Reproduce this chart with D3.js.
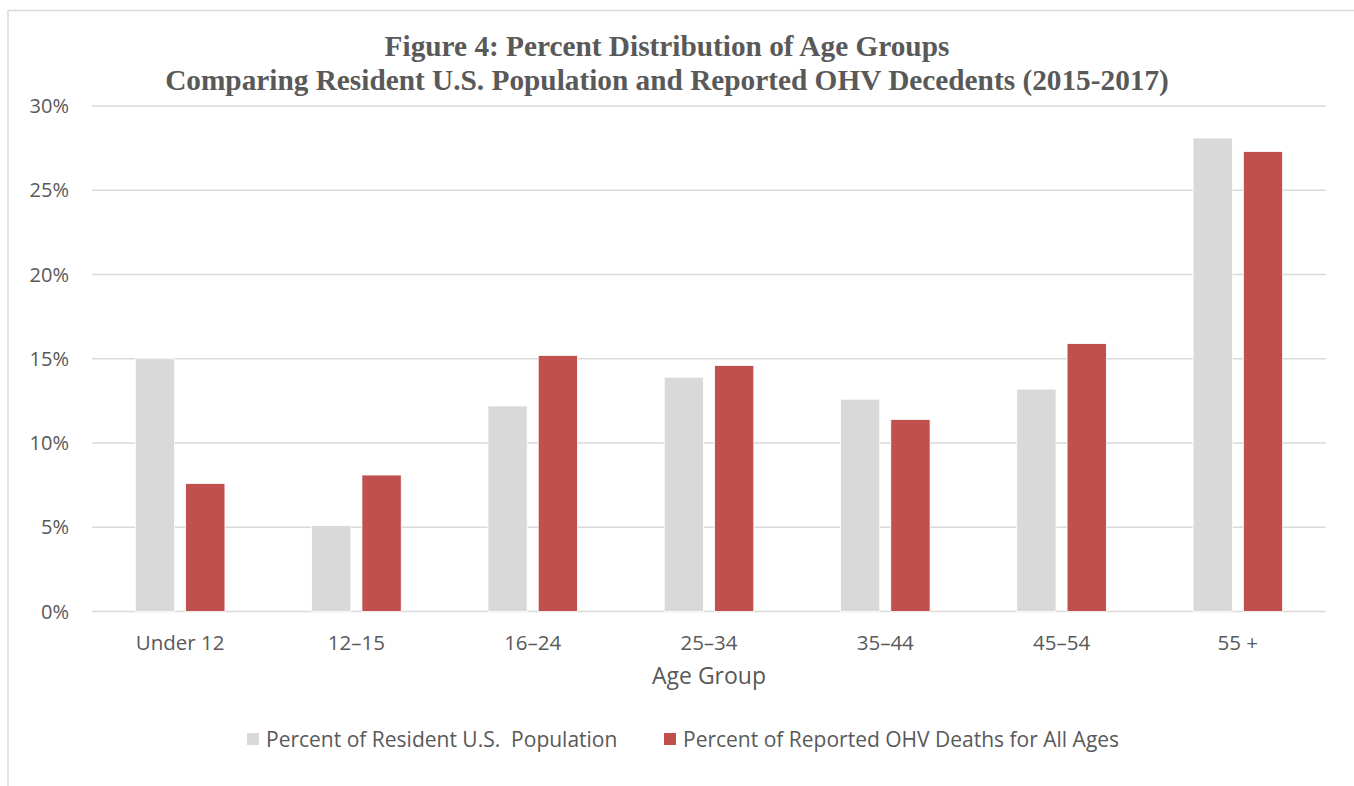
<!DOCTYPE html>
<html>
<head>
<meta charset="utf-8">
<script src="https://cdn.jsdelivr.net/npm/d3@7"></script>
<style>
body { margin: 0; background: #fff; }
text { fill: #595959; }
</style>
</head>
<body>
<div id="chart"></div>
<script>
var categories = ["Under 12", "12\u201315", "16\u201324", "25\u201334", "35\u201344", "45\u201354", "55 +"];
var population = [15.0, 5.1, 12.2, 13.9, 12.6, 13.2, 28.1];
var deaths = [7.6, 8.1, 15.2, 14.6, 11.4, 15.9, 27.3];
var seriesNames = ["Percent of Resident U.S.\u00a0 Population", "Percent of Reported OHV Deaths for All Ages"];
var seriesColors = ["#d9d9d9", "#c0504d"];
var yTicks = [0, 5, 10, 15, 20, 25, 30];
var titleLines = ["Figure 4: Percent Distribution of Age Groups",
                  "Comparing Resident U.S. Population and Reported OHV Decedents (2015-2017)"];

var w = 1354, h = 786;
var plotL = 92, plotR = 1326, plotT = 106, plotB = 611.5;

var svg = d3.select("#chart").append("svg")
    .attr("width", w)
    .attr("height", h);

// chart frame (only top and left edges visible)
svg.append("path")
    .attr("d", "M8 786 L8 10.5 L1354 10.5")
    .attr("fill", "none")
    .attr("stroke", "#d9d9d9")
    .attr("stroke-width", 1.5);

var x = d3.scaleBand().domain(categories).range([plotL, plotR]).paddingInner(0).paddingOuter(0);
var y = d3.scaleLinear().domain([0, 30]).range([plotB, plotT]);

var barW = 39.3, gap = 11;

// gridlines
svg.append("g")
    .selectAll("line")
    .data(yTicks)
    .enter().append("line")
    .attr("x1", plotL).attr("x2", plotR)
    .attr("y1", function(d) { return y(d); })
    .attr("y2", function(d) { return y(d); })
    .attr("stroke", "#d9d9d9")
    .attr("stroke-width", 1.5);

// y tick labels
svg.append("g")
    .selectAll("text")
    .data(yTicks)
    .enter().append("text")
    .attr("x", 69)
    .attr("y", function(d) { return y(d); })
    .attr("dy", "0.36em")
    .attr("text-anchor", "end")
    .style("font-family", "'Open Sans', sans-serif")
    .style("font-size", "20px")
    .text(function(d) { return d + "%"; });

var series = [population, deaths];
series.forEach(function(vals, si) {
    svg.append("g")
        .selectAll("rect")
        .data(vals)
        .enter().append("rect")
        .attr("x", function(d, i) {
            var c = x(categories[i]) + x.bandwidth() / 2;
            return si == 0 ? c - gap / 2 - barW : c + gap / 2;
        })
        .attr("y", function(d) { return y(d); })
        .attr("width", barW)
        .attr("height", function(d) { return y(0) - y(d); })
        .attr("fill", seriesColors[si])
        .attr("stroke", "#fff")
        .attr("stroke-width", 0.8);
});

// category labels
svg.append("g")
    .selectAll("text")
    .data(categories)
    .enter().append("text")
    .attr("x", function(d) { return x(d) + x.bandwidth() / 2; })
    .attr("y", 650)
    .attr("text-anchor", "middle")
    .style("font-family", "'Open Sans', sans-serif")
    .style("font-size", "20.5px")
    .text(function(d) { return d; });

// axis title
svg.append("text")
    .attr("x", (plotL + plotR) / 2)
    .attr("y", 684)
    .attr("text-anchor", "middle")
    .style("font-family", "'Open Sans', sans-serif")
    .style("font-size", "23px")
    .text("Age Group");

// title
svg.append("g")
    .selectAll("text")
    .data(titleLines)
    .enter().append("text")
    .attr("x", 667)
    .attr("y", function(d, i) { return 56 + i * 34; })
    .attr("text-anchor", "middle")
    .style("font-family", "'Liberation Serif', 'Times New Roman', serif")
    .style("font-weight", "bold")
    .style("font-size", "29.3px")
    .text(function(d) { return d; });

// legend
var legendX = [247, 664];
var lg = svg.append("g")
    .selectAll("g")
    .data(seriesNames)
    .enter().append("g")
    .attr("transform", function(d, i) { return "translate(" + legendX[i] + ",733)"; });
lg.append("rect")
    .attr("width", 12).attr("height", 12)
    .attr("fill", function(d, i) { return seriesColors[i]; });
lg.append("text")
    .attr("x", 19)
    .attr("y", 6)
    .attr("dy", "0.36em")
    .style("font-family", "'Open Sans', sans-serif")
    .style("font-size", "21px")
    .text(function(d) { return d; });
</script>
</body>
</html>
